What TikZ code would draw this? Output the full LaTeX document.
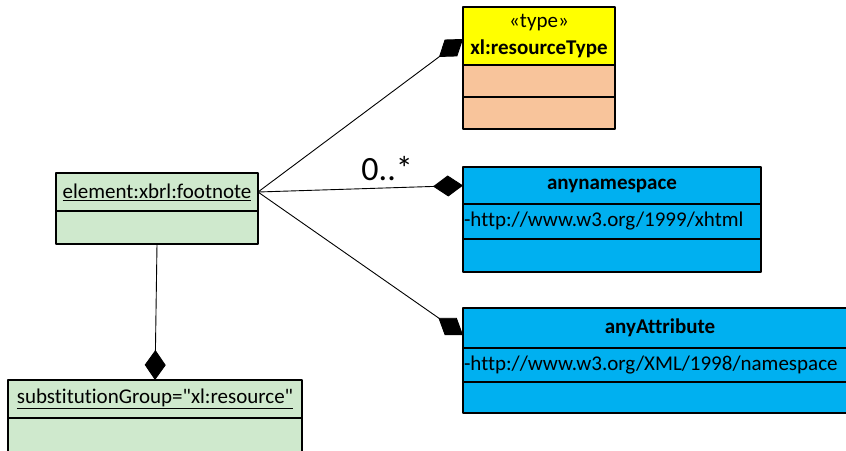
\documentclass[tikz,border=0pt]{standalone}
\usepackage{fontspec}
\setmainfont{Carlito}[Ligatures={TeXOff,NoCommon}]
\usetikzlibrary{positioning,arrows.meta}

\definecolor{typeyellow}{HTML}{FFFF00}
\definecolor{typesalmon}{HTML}{F8C49B}
\definecolor{elemgreen}{HTML}{CFE9CD}
\definecolor{anyblue}{HTML}{00B0F0}

\tikzset{
  umlpart/.style={
    draw,
    line width=1.3pt,
    inner sep=2pt,
    outer sep=0pt,
    anchor=north west,
    font=\fontsize{21}{27}\selectfont
  },
  composition/.style={
    -{Diamond[length=30pt,width=21pt]},
    line width=0.9pt
  }
}

\begin{document}
\begin{tikzpicture}[
  x=1pt,
  y=-1pt,
  line cap=round,
  line join=round
]
  \clip (0,0) rectangle (846,450);

  % Тип xl:resourceType
  \node[umlpart, fill=typeyellow, minimum width=152pt, minimum height=58pt, align=center]
    (typehead) at (463,7) {«type»\\\textbf{xl:resourceType}};
  \node[umlpart, fill=typesalmon, minimum width=152pt, minimum height=32pt]
    (typeattr) at (typehead.south west) {};
  \node[umlpart, fill=typesalmon, minimum width=152pt, minimum height=32pt]
    (typeop) at (typeattr.south west) {};

  % Элемент xbrl:footnote
  \node[umlpart, fill=elemgreen, minimum width=202pt, minimum height=38pt]
    (foothead) at (56,173) {\underline{element:xbrl:footnote}};
  \node[umlpart, fill=elemgreen, minimum width=202pt, minimum height=33pt]
    (footattr) at (foothead.south west) {};

  % substitutionGroup
  \node[umlpart, fill=elemgreen, minimum width=294pt, minimum height=38pt]
    (substhead) at (8,380) {\underline{substitutionGroup="xl:resource"}};
  \node[umlpart, fill=elemgreen, minimum width=294pt, minimum height=45pt]
    (substattr) at (substhead.south west) {};

  % anynamespace
  \node[umlpart, fill=anyblue, minimum width=298pt, minimum height=37pt]
    (nshead) at (463,167) {\textbf{anynamespace}};
  \node[umlpart, fill=anyblue, text width=294pt, minimum height=35pt, align=left]
    (nsattr) at (nshead.south west) {\hspace*{-1pt}-http://www.w3.org/1999/xhtml};
  \node[umlpart, fill=anyblue, minimum width=298pt, minimum height=33pt]
    (nsop) at (nsattr.south west) {};

  % anyAttribute
  \node[umlpart, fill=anyblue, minimum width=394pt, minimum height=40pt]
    (attrhead) at (463,308) {\textbf{anyAttribute}};
  \node[umlpart, fill=anyblue, text width=390pt, minimum height=34pt, align=left]
    (attrattr) at (attrhead.south west) {\hspace*{-1pt}-http://www.w3.org/XML/1998/namespace};
  \node[umlpart, fill=anyblue, minimum width=394pt, minimum height=31pt]
    (attrop) at (attrattr.south west) {};

  % Связи
  \coordinate (F) at (foothead.east);

  \draw[composition]
    (F) -- ([yshift=-3pt]typehead.west);

  \draw[composition]
    (F) -- (nshead.west)
    node[pos=0.63, above=3pt, font=\fontsize{34}{38}\selectfont] (mult) {0..*};

  \draw[composition]
    (F) -- ([yshift=-7pt]attrhead.west);

  \draw[composition]
    (footattr.south) -- (substhead.north);
\end{tikzpicture}
\end{document}
